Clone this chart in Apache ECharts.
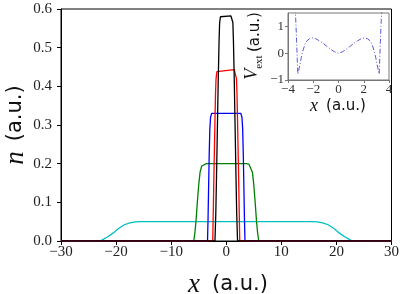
<!DOCTYPE html>
<html>
<head>
<meta charset="utf-8">
<script src="https://cdn.jsdelivr.net/npm/echarts@6/dist/echarts.min.js"></script>
<style>
  html, body { margin: 0; padding: 0; background: #fff; }
  #chart { width: 402px; height: 294px; }
</style>
</head>
<body>
<div id="chart"></div>
<script>
// density profiles n(x) as [x, n] pairs
const blackN = [[-30,0],[-2.05,0],[-1.9,0.07],[-1.75,0.18],[-1.6,0.3],[-1.45,0.42],[-1.3,0.52],[-1.2,0.565],[-1.05,0.58],[-0.85,0.582],
  [0.85,0.582],[1.05,0.58],[1.2,0.565],[1.3,0.52],[1.45,0.42],[1.6,0.3],[1.75,0.18],[1.9,0.07],[2.05,0],[30,0]];
const redN = [[-30,0],[-2.45,0],[-2.35,0.08],[-2.2,0.2],[-2.05,0.31],[-1.95,0.38],[-1.85,0.42],[-1.7,0.438],[-1.45,0.443],
  [1.45,0.443],[1.7,0.438],[1.85,0.42],[1.95,0.38],[2.05,0.31],[2.2,0.2],[2.35,0.08],[2.45,0],[30,0]];
const blueN = [[-30,0],[-3.4,0],[-3.3,0.06],[-3.2,0.14],[-3.1,0.22],[-2.98,0.29],[-2.85,0.32],[-2.65,0.33],
  [2.65,0.33],[2.85,0.32],[2.98,0.29],[3.1,0.22],[3.2,0.14],[3.3,0.06],[3.4,0],[30,0]];
const greenN = [[-30,0],[-5.9,0],[-5.7,0.02],[-5.5,0.05],[-5.25,0.1],[-5.0,0.145],[-4.75,0.178],[-4.45,0.194],[-4.1,0.199],[-3.6,0.2],
  [3.6,0.2],[4.1,0.199],[4.45,0.194],[4.75,0.178],[5.0,0.145],[5.25,0.1],[5.5,0.05],[5.7,0.02],[5.9,0],[30,0]];
const cyanN = [[-30,0],[-23,0],[-22.5,0.003],[-21.5,0.011],[-20.5,0.021],[-19.5,0.033],[-18.5,0.042],[-17.5,0.047],[-16.5,0.0495],[-15.5,0.05],
  [15.5,0.05],[16.5,0.0495],[17.5,0.047],[18.5,0.042],[19.5,0.033],[20.5,0.021],[21.5,0.011],[22.5,0.003],[23,0],[30,0]];

// inset: external potential V_ext(x)
const vExt = [[-3.44,1.7],[-3.4,1.4],[-3.36,0.96],[-3.32,0.45],[-3.28,-0.05],[-3.25,-0.45],[-3.22,-0.78],[-3.17,-0.68],[-3.1,-0.52],
  [-3.0,-0.3],[-2.95,-0.16],[-2.8,0.12],[-2.65,0.34],[-2.5,0.46],[-2.3,0.54],[-2.05,0.57],[-1.8,0.54],[-1.5,0.46],[-1.2,0.36],
  [-0.9,0.25],[-0.6,0.14],[-0.3,0.05],[0,0],[0.3,0.05],[0.6,0.14],[0.9,0.25],[1.2,0.36],[1.5,0.46],[1.8,0.54],[2.05,0.57],
  [2.3,0.54],[2.5,0.46],[2.65,0.34],[2.8,0.12],[2.95,-0.16],[3.0,-0.3],[3.1,-0.52],[3.17,-0.68],[3.22,-0.78],[3.25,-0.45],
  [3.28,-0.05],[3.32,0.45],[3.36,0.96],[3.4,1.4],[3.44,1.7]];

const xTicks = [-30, -20, -10, 0, 10, 20, 30];
const yTicks = [0, 0.1, 0.2, 0.3, 0.4, 0.5, 0.6];
const insetXTicks = [-4, -2, 0, 2, 4];
const insetYTicks = [-1, 0, 1];

const serif = 'Liberation Serif';
const minus = v => String(v).replace('-', '\u2212');

const chart = echarts.init(document.getElementById('chart'));

function line(data, color) {
  return {
    type: 'line', data: data, xAxisIndex: 0, yAxisIndex: 0,
    showSymbol: false, symbol: 'none', smooth: false,
    lineStyle: { color: color, width: 1.3 }
  };
}

chart.setOption({
  animation: false,
  grid: [
    { left: 61, right: 7, top: 9, bottom: 53, show: true, borderColor: '#000', borderWidth: 1 },
    { left: 288, right: 13, top: 13, bottom: 214, show: true, borderColor: '#777', borderWidth: 1, backgroundColor: '#fff' }
  ],
  xAxis: [
    {
      type: 'value', gridIndex: 0, min: -30, max: 30, interval: 10,
      axisLine: { onZero: false, lineStyle: { color: '#000', width: 1 } },
      axisTick: { length: 4, lineStyle: { color: '#000' }, customValues: xTicks },
      axisLabel: { customValues: xTicks, formatter: minus, fontFamily: serif, fontSize: 15, color: '#222', margin: 4 },
      splitLine: { show: false }
    },
    {
      type: 'value', gridIndex: 1, min: -4, max: 4, interval: 2,
      axisLine: { onZero: false, lineStyle: { color: '#777', width: 1 } },
      axisTick: { length: 3, lineStyle: { color: '#777' }, customValues: insetXTicks },
      axisLabel: { customValues: insetXTicks, formatter: minus, fontFamily: serif, fontSize: 13, color: '#333', margin: 3 },
      splitLine: { show: false }
    }
  ],
  yAxis: [
    {
      type: 'value', gridIndex: 0, min: 0, max: 0.6, interval: 0.1,
      axisLine: { show: true, onZero: false, lineStyle: { color: '#000', width: 1 } },
      axisTick: { show: true, length: 4, lineStyle: { color: '#000' }, customValues: yTicks },
      axisLabel: { customValues: yTicks, formatter: v => v.toFixed(1), fontFamily: serif, fontSize: 15, color: '#222', margin: 9 },
      splitLine: { show: false }
    },
    {
      type: 'value', gridIndex: 1, min: -1, max: 1.5, interval: 1,
      axisLine: { show: true, onZero: false, lineStyle: { color: '#777', width: 1 } },
      axisTick: { show: true, length: 3, lineStyle: { color: '#777' }, customValues: insetYTicks },
      axisLabel: { customValues: insetYTicks, formatter: minus, fontFamily: serif, fontSize: 13, color: '#333', margin: 4 },
      splitLine: { show: false }
    }
  ],
  graphic: [
    {
      type: 'text', x: 228, y: 285,
      style: {
        text: '{i|x}{s|(a.u.)}', align: 'center', verticalAlign: 'middle',
        rich: {
          i: { fontFamily: serif, fontStyle: 'italic', fontSize: 27, fill: '#111' },
          s: { fontFamily: 'DejaVu Sans', fontSize: 21, fill: '#111', padding: [0, 0, 0, 12] }
        }
      }
    },
    {
      type: 'text', x: 16, y: 125, rotation: Math.PI / 2,
      style: {
        text: '{i|n}{s|(a.u.)}', align: 'center', verticalAlign: 'middle',
        rich: {
          i: { fontFamily: serif, fontStyle: 'italic', fontSize: 27, fill: '#111' },
          s: { fontFamily: 'DejaVu Sans', fontSize: 21, fill: '#111', padding: [0, 0, 0, 10] }
        }
      }
    },
    {
      type: 'text', x: 338, y: 106,
      style: {
        text: '{i|x}{s|(a.u.)}', align: 'center', verticalAlign: 'middle',
        rich: {
          i: { fontFamily: serif, fontStyle: 'italic', fontSize: 18, fill: '#111' },
          s: { fontFamily: 'DejaVu Sans', fontSize: 15, fill: '#111', padding: [0, 0, 0, 8] }
        }
      }
    },
    {
      type: 'text', x: 254, y: 46, rotation: Math.PI / 2,
      style: {
        text: '{i|V}{b|ext} {s|(a.u.)}', align: 'center', verticalAlign: 'middle',
        rich: {
          i: { fontFamily: serif, fontStyle: 'italic', fontSize: 18, fill: '#111', verticalAlign: 'bottom', padding: [0, 0, 3, 0] },
          b: { fontFamily: serif, fontSize: 11, fill: '#111', verticalAlign: 'bottom' },
          s: { fontFamily: 'DejaVu Sans', fontSize: 15, fill: '#111', verticalAlign: 'bottom', padding: [0, 0, 2, 0] }
        }
      }
    }
  ],
  series: [
    line(cyanN, '#00bfbf'),
    line(greenN, '#008000'),
    line(blueN, '#0000ff'),
    line(redN, '#ff0000'),
    line(blackN, '#000000'),
    {
      type: 'line', data: vExt, xAxisIndex: 1, yAxisIndex: 1,
      showSymbol: false, symbol: 'none', smooth: false, clip: true,
      lineStyle: { color: '#5a5ad8', width: 1, type: [5, 2, 1, 2] }
    }
  ]
});
</script>
</body>
</html>
